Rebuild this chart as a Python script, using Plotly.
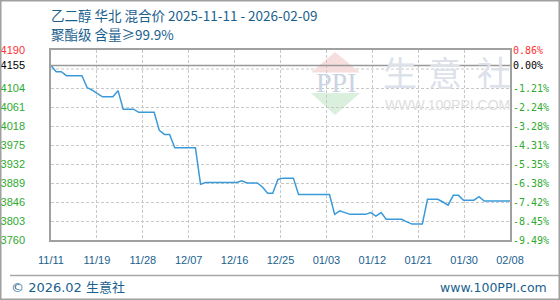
import pandas as pd
import plotly.graph_objects as go

# ---------------- data ----------------
start_date = "2025-11-11"
end_date = "2026-02-08"
prices = [
    4155, 4141, 4141, 4132, 4132, 4132, 4132, 4105, 4099, 4091,
    4084, 4084, 4084, 4098, 4056, 4056, 4056, 4049, 4049, 4049,
    4049, 4008, 3999, 3999, 3969, 3969, 3969, 3969, 3969, 3886,
    3890, 3890, 3890, 3890, 3890, 3890, 3890, 3894, 3889, 3889,
    3889, 3880, 3866, 3866, 3897, 3900, 3900, 3900, 3863, 3863,
    3863, 3863, 3863, 3863, 3863, 3818, 3826, 3822, 3818, 3818,
    3818, 3818, 3822, 3814, 3822, 3807, 3807, 3807, 3807, 3801,
    3796, 3796, 3796, 3852, 3852, 3852, 3846, 3839, 3861, 3861,
    3850, 3850, 3850, 3858, 3848, 3848, 3848, 3848, 3848, 3848,
]
x_tick_labels = ["11/11", "11/19", "11/28", "12/07", "12/16", "12/25",
                 "01/03", "01/12", "01/21", "01/30", "02/08"]
y_tick_vals = [4190, 4155, 4104, 4061, 4018, 3975, 3932, 3889, 3846, 3803, 3760]
y_grid_extra = [4147]
pct_labels = ["0.86%", "0.00%", "-1.21%", "-2.24%", "-3.28%", "-4.31%",
              "-5.35%", "-6.38%", "-7.42%", "-8.45%", "-9.49%"]
title_line1 = "乙二醇 华北 混合价 2025-11-11 - 2026-02-09"
title_line2 = "聚酯级 含量≥99.9%"
footer_left = "© 2026.02 生意社"
footer_right = "www.100PPI.com"
watermark_chars = ["生", "意", "社"]
watermark_url = "WWW.100PPI.COM"
logo_text = "PPI"

# ---------------- build ----------------
dates = pd.date_range(start_date, end_date, freq="D")
base = prices[0]
RED, GREEN, BLACK = "#ff3333", "#2eaa2e", "#000000"
BLUE_TXT = "#1a5f8e"


def col(v):
    return RED if v > base else (BLACK if v == base else GREEN)


left_text = [f"<span style='color:{col(v)}'>{v}</span>" for v in y_tick_vals]
right_text = [f"<span style='color:{col(v)}'>{t}</span>" for v, t in zip(y_tick_vals, pct_labels)]

t0 = dates[0]
t1 = dates[-1]
span = t1 - t0
x_tick_vals = [t0 + span * k / (len(x_tick_labels) - 1) for k in range(len(x_tick_labels))]

L, R, T, B = 51, 50, 50, 60
W, H = 560, 300
PW, PH = W - L - R, H - T - B


def px(x):
    return (x - L) / PW


def py(y):
    return (H - B - y) / PH


fig = go.Figure()
fig.add_trace(go.Scatter(x=dates, y=prices, mode="lines",
                         line=dict(color="#3a9ad9", width=1.5),
                         hoverinfo="skip", showlegend=False))
fig.add_trace(go.Scatter(x=[dates[0]], y=[base], yaxis="y2", mode="markers",
                         marker=dict(opacity=0), hoverinfo="skip", showlegend=False))

yr = [y_tick_vals[-1], y_tick_vals[0]]
fig.update_layout(
    width=W, height=H,
    margin=dict(l=L, r=R, t=T, b=B, autoexpand=False),
    paper_bgcolor="white", plot_bgcolor="white",
    xaxis=dict(range=[t0, t1], tickvals=x_tick_vals, ticktext=x_tick_labels,
               showgrid=True, gridcolor="#c8c8c8", griddash="3px,2px", gridwidth=1,
               showline=True, mirror=True, linecolor="#a0a0a0", linewidth=1.5,
               ticks="", ticklabelstandoff=9, automargin=False,
               tickfont=dict(family="Liberation Sans, Arial", size=11, color=BLUE_TXT),
               zeroline=False, fixedrange=True),
    yaxis=dict(range=yr, tickvals=y_tick_vals, ticktext=left_text,
               showgrid=True, gridcolor="#c8c8c8", griddash="3px,2px", gridwidth=1,
               showline=True, mirror=True, linecolor="#a0a0a0", linewidth=1.5,
               ticks="", ticklabelstandoff=22, automargin=False,
               tickfont=dict(family="Liberation Sans, Arial", size=11),
               zeroline=False, fixedrange=True),
    yaxis2=dict(range=yr, tickvals=y_tick_vals, ticktext=right_text, overlaying="y",
                side="right", showgrid=False, ticks="", ticklabelstandoff=2,
                automargin=False,
                tickfont=dict(family="DejaVu Sans Mono, monospace", size=10),
                zeroline=False, showline=False, fixedrange=True),
)

shapes = []
for g in y_grid_extra:
    shapes.append(dict(type="line", xref="paper", yref="y", x0=0, x1=1, y0=g, y1=g,
                       line=dict(color="#c8c8c8", width=1, dash="3px,2px"), layer="below"))
shapes.append(dict(type="line", xref="paper", yref="y", x0=0, x1=1, y0=base, y1=base,
                   line=dict(color="#999999", width=1.5)))
# watermark logo
shapes.append(dict(type="path", xref="paper", yref="paper",
                   path=f"M {px(311)},{py(72.5)} L {px(335)},{py(52)} L {px(360)},{py(72.5)} Z",
                   fillcolor="#f7dede", line=dict(width=0), layer="below"))
shapes.append(dict(type="path", xref="paper", yref="paper",
                   path=f"M {px(311)},{py(93)} L {px(335)},{py(115)} L {px(360)},{py(93)} Z",
                   fillcolor="#daefdc", line=dict(width=0), layer="below"))
# footer separator & frame
shapes.append(dict(type="line", xref="paper", yref="paper", x0=px(10), x1=px(559), y0=py(275.5), y1=py(275.5),
                   line=dict(color="#a8a8a8", width=1.5)))
shapes.append(dict(type="rect", xref="paper", yref="paper", x0=px(0.75), x1=px(559.25), y0=py(299.25), y1=py(0.75),
                   line=dict(color="#a0a0a0", width=1.5)))
fig.update_layout(shapes=shapes)

ann = [
    dict(text=title_line1, x=px(49), y=py(15), xanchor="left", yanchor="middle",
         font=dict(family="Noto Sans CJK SC", size=13.5, color=BLUE_TXT)),
    dict(text=title_line2, x=px(49), y=py(34), xanchor="left", yanchor="middle",
         font=dict(family="Noto Sans CJK SC", size=13.5, color=BLUE_TXT)),
    dict(text=logo_text, x=px(335.5), y=py(82), xanchor="center", yanchor="middle",
         font=dict(family="Liberation Serif, serif", size=28, color="#cbd4e4")),
    dict(text=watermark_url, x=px(447), y=py(105), xanchor="center", yanchor="middle",
         font=dict(family="Liberation Sans, Arial", size=14, color="#dedede")),
    dict(text=footer_left, x=px(9), y=py(287), xanchor="left", yanchor="middle",
         font=dict(family="DejaVu Sans, Noto Sans CJK SC", size=13, color=BLUE_TXT)),
    dict(text=footer_right, x=px(549), y=py(287), xanchor="right", yanchor="middle",
         font=dict(family="DejaVu Sans, Arial", size=12.5, color=BLUE_TXT)),
]
for ch, cx in zip(watermark_chars, [400, 445, 494]):
    ann.append(dict(text=ch, x=px(cx), y=py(71), xanchor="center", yanchor="middle",
                    font=dict(family="Noto Sans CJK SC", size=34, color="#dce1ea")))
for a in ann:
    a.update(xref="paper", yref="paper", showarrow=False)
fig.update_layout(annotations=ann)

fig.write_html("out.html")
